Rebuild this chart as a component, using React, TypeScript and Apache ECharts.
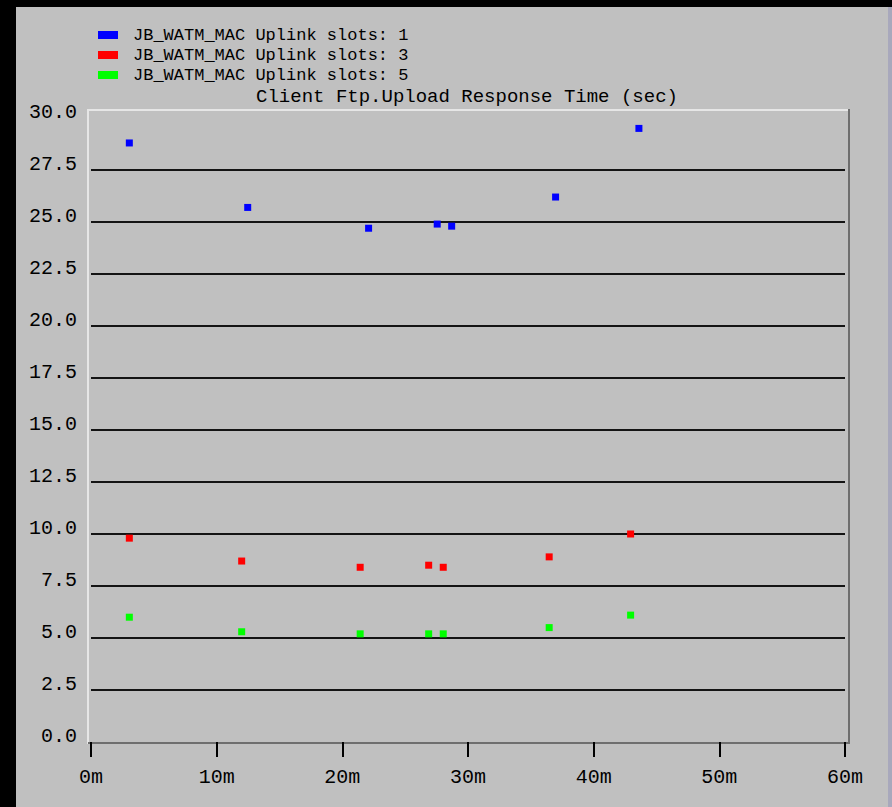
import React, { useEffect, useRef } from "react";
import * as echarts from "echarts";

const seriesNames = [
  "JB_WATM_MAC Uplink slots: 1",
  "JB_WATM_MAC Uplink slots: 3",
  "JB_WATM_MAC Uplink slots: 5",
];
const seriesColors = ["#0000ff", "#ff0000", "#00ff00"];

const blueX = [3.05, 12.47, 22.09, 27.55, 28.7, 36.97, 43.6];
const blueY = [28.8, 25.7, 24.7, 24.9, 24.8, 26.2, 29.5];
const redX = [3.05, 11.99, 21.42, 26.87, 28.03, 36.46, 42.94];
const redY = [9.8, 8.7, 8.4, 8.5, 8.4, 8.9, 10.0];
const greenX = [3.05, 11.99, 21.42, 26.87, 28.03, 36.46, 42.94];
const greenY = [6.0, 5.3, 5.2, 5.2, 5.2, 5.5, 6.1];

const titleText = "Client Ftp.Upload Response Time (sec)";

const FONT = "'Liberation Mono', 'DejaVu Sans Mono', monospace";

function pairs(xs: number[], ys: number[]) {
  return xs.map((x, i) => [x, ys[i]]);
}

export default function App() {
  const ref = useRef<HTMLDivElement>(null);
  useEffect(() => {
    if (!ref.current) return;
    const chart = echarts.init(ref.current, undefined, { renderer: "svg" });
    const splitColors: string[] = [];
    for (let i = 0; i <= 12; i++) splitColors.push(i === 0 || i === 12 ? "rgba(0,0,0,0)" : "#141414");
    const data = [pairs(blueX, blueY), pairs(redX, redY), pairs(greenX, greenY)];
    chart.setOption({
      animation: false,
      backgroundColor: "#c0c0c0",
      title: {
        text: titleText,
        left: 467,
        top: 86,
        textAlign: "center",
        textStyle: { fontFamily: FONT, fontSize: 19, fontWeight: "normal", color: "#000", lineHeight: 22 },
        padding: 0,
      },
      legend: {
        orient: "vertical",
        left: 98,
        top: 25,
        padding: 0,
        itemWidth: 20,
        itemHeight: 8,
        itemGap: 0,
        icon: "rect",
        data: seriesNames,
        textStyle: {
          fontFamily: FONT,
          fontSize: 17,
          color: "#000",
          lineHeight: 20,
          padding: [0, 0, 0, 10],
        },
      },
      grid: { left: 91, top: 118, width: 754, height: 624, containLabel: false },
      xAxis: {
        type: "value",
        min: 0,
        max: 60,
        interval: 10,
        axisLine: { show: false },
        axisTick: { show: true, length: 15, lineStyle: { color: "#000", width: 2 } },
        splitLine: { show: false },
        axisLabel: {
          fontFamily: FONT,
          fontSize: 20,
          color: "#000",
          margin: 25,
          formatter: (v: number) => v + "m",
        },
      },
      yAxis: {
        type: "value",
        min: 0,
        max: 30,
        interval: 2.5,
        axisLine: { show: false },
        axisTick: { show: false },
        splitLine: { show: true, lineStyle: { color: splitColors, width: 2 } },
        axisLabel: {
          fontFamily: FONT,
          fontSize: 20,
          color: "#000",
          margin: 14,
          verticalAlign: "bottom",
          lineHeight: 12,
          formatter: (v: number) => v.toFixed(1),
        },
      },
      graphic: [
        { type: "rect", shape: { x: 0, y: 0, width: 16, height: 807 }, style: { fill: "#000" } },
        { type: "rect", shape: { x: 0, y: 0, width: 892, height: 7 }, style: { fill: "#000" } },
        { type: "rect", shape: { x: 888, y: 7, width: 4, height: 800 }, style: { fill: "#a8a8bc" } },
        { type: "line", shape: { x1: 88, y1: 110, x2: 88, y2: 744 }, style: { stroke: "#e6e6e6", lineWidth: 2 } },
        { type: "line", shape: { x1: 87, y1: 110, x2: 849, y2: 110 }, style: { stroke: "#e6e6e6", lineWidth: 2 } },
        { type: "line", shape: { x1: 849, y1: 109, x2: 849, y2: 744 }, style: { stroke: "#6e6e6e", lineWidth: 2 } },
        { type: "line", shape: { x1: 88, y1: 743, x2: 850, y2: 743 }, style: { stroke: "#6e6e6e", lineWidth: 2 } },
      ],
      series: seriesNames.map((name, i) => ({
        name,
        type: "scatter",
        symbol: "rect",
        symbolSize: 7,
        itemStyle: { color: seriesColors[i], opacity: 1 },
        data: data[i],
        z: 5,
      })),
    });
    return () => chart.dispose();
  }, []);
  return (
    <div
      ref={ref}
      style={{ position: "absolute", left: 0, top: 0, width: 892, height: 807 }}
    />
  );
}
